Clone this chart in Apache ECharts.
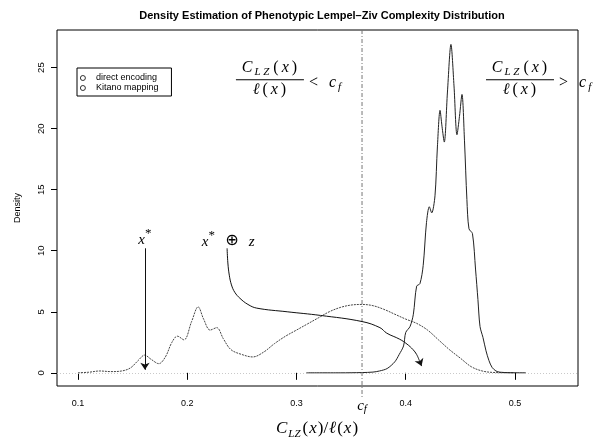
<!DOCTYPE html>
<html>
<head>
<meta charset="utf-8">
<script src="https://cdn.jsdelivr.net/npm/echarts@6/dist/echarts.min.js"></script>
<style>
  html, body { margin: 0; padding: 0; background: #fff; }
  #main { width: 598px; height: 437px; }
</style>
</head>
<body>
<div id="main"></div>
<script>
// density of the direct encoding phenotypes
var directX = [0.100, 0.110, 0.120, 0.130, 0.140, 0.148, 0.155, 0.161, 0.167, 0.174, 0.180, 0.186, 0.191, 0.197, 0.204, 0.210, 0.215, 0.221, 0.227, 0.233, 0.240, 0.250, 0.260, 0.270, 0.280, 0.290, 0.300, 0.310, 0.320, 0.330, 0.340, 0.350, 0.360, 0.370, 0.380, 0.390, 0.400, 0.410, 0.420, 0.430, 0.440, 0.450, 0.460, 0.470, 0.480, 0.490, 0.500]
var directY = [0.00, 0.05, 0.15, 0.10, 0.15, 0.40, 1.00, 1.45, 1.10, 0.75, 1.30, 2.50, 3.00, 2.70, 4.20, 5.40, 4.40, 3.50, 3.70, 2.80, 1.90, 1.50, 1.30, 1.70, 2.40, 3.00, 3.50, 4.00, 4.50, 5.00, 5.35, 5.55, 5.60, 5.50, 5.20, 4.80, 4.40, 4.05, 3.50, 2.70, 1.90, 1.20, 0.50, 0.15, 0.03, 0.01, 0.00]

// density of the Kitano mapping phenotypes
var kitanoX = [0.309, 0.340, 0.360, 0.370, 0.376, 0.383, 0.390, 0.394, 0.398, 0.400, 0.404, 0.407, 0.410, 0.413, 0.416, 0.419, 0.4216, 0.4238, 0.4268, 0.429, 0.4314, 0.4332, 0.4353, 0.4382, 0.4414, 0.4442, 0.4469, 0.4492, 0.4515, 0.4538, 0.456, 0.4579, 0.4611, 0.4639, 0.4661, 0.468, 0.4707, 0.4735, 0.4762, 0.479, 0.4826, 0.4863, 0.4954, 0.510]
var kitanoY = [0, 0, 0.02, 0.06, 0.15, 0.35, 0.9, 1.5, 2.2, 3.3, 3.8, 4.8, 7.1, 7.3, 8.8, 12.3, 13.6, 13.1, 14.5, 18.5, 21.5, 20.2, 18.9, 23.0, 26.9, 23.5, 19.5, 21.0, 22.8, 19.0, 14.2, 11.8, 11.4, 8.5, 6.0, 3.8, 2.9, 1.8, 1.0, 0.45, 0.15, 0.05, 0.01, 0]

// the x* ⊕ z arrow path
var mutX = [0.2365, 0.2372, 0.2385, 0.2405, 0.2435, 0.2483, 0.2556, 0.2636, 0.2915, 0.3220, 0.3600, 0.3764, 0.3826, 0.3945, 0.4012, 0.4067, 0.4100, 0.4125]
var mutY = [10.2, 9.0, 8.0, 7.2, 6.6, 6.1, 5.6, 5.3, 5.0, 4.7, 4.2, 3.7, 3.25, 2.75, 2.35, 1.9, 1.5, 1.0]
var mutTip = [0.4145, 0.55]

// x* arrow
var starX = 0.1613
var starTop = 10.2
var starTip = 0.25

var cutoff = 0.36
var xTicks = [0.1, 0.2, 0.3, 0.4, 0.5]
var xLabels = [0.1, 0.2, 0.3, cutoff, 0.4, 0.5]
var yTicks = [0, 5, 10, 15, 20, 25]

function pairs (xs, ys) {
  return xs.map(function (x, i) { return [x, ys[i]] })
}

var serif = 'Liberation Serif'
var sans = 'Liberation Sans'
var mathRich = {
  n: { fontFamily: serif, fontStyle: 'italic', fontSize: 16, color: '#000', verticalAlign: 'top', lineHeight: 18, padding: [0, 1, 0, 1] },
  r: { fontFamily: serif, fontSize: 16, color: '#000', verticalAlign: 'top', lineHeight: 18, padding: [0, 2, 0, 2] },
  s: { fontFamily: serif, fontStyle: 'italic', fontSize: 11, color: '#000', verticalAlign: 'bottom', lineHeight: 18, padding: [0, 2, 0, 1] },
  m: { fontFamily: serif, fontStyle: 'italic', fontSize: 15, color: '#000', verticalAlign: 'bottom', lineHeight: 20 },
  p: { fontFamily: serif, fontSize: 13, color: '#000', verticalAlign: 'top', lineHeight: 20 },
  o: { fontFamily: 'DejaVu Sans', fontSize: 16, color: '#000', verticalAlign: 'bottom', lineHeight: 20 },
  bar: { width: 68, height: 1, backgroundColor: '#000', lineHeight: 4 }
}

function note (coord, text, position) {
  return {
    coord: coord,
    symbol: 'circle',
    symbolSize: 0,
    label: {
      show: true,
      position: position || 'inside',
      distance: 0,
      formatter: text,
      rich: mathRich
    }
  }
}

var fraction = '{n|C}{s|L Z}{r|(}{n|x}{r|)}\n{bar|}\n{n|\u2113}{r|(}{n|x}{r|)}'

var chart = echarts.init(document.getElementById('main'))

var option = {
  animation: false,
  backgroundColor: '#fff',
  title: {
    text: 'Density Estimation of Phenotypic Lempel\u2013Ziv Complexity Distribution',
    left: 317,
    top: 5,
    textAlign: 'center',
    textStyle: { fontFamily: sans, fontSize: 11, fontWeight: 'bold', color: '#000' }
  },
  legend: {
    left: 77,
    top: 68,
    orient: 'vertical',
    data: ['direct encoding', 'Kitano mapping'],
    icon: 'circle',
    itemWidth: 10,
    itemHeight: 5,
    itemGap: 0,
    padding: [5, 13, 3, 3],
    borderColor: '#000',
    borderWidth: 1,
    itemStyle: { color: '#fff', borderColor: '#000', borderWidth: 0.8 },
    textStyle: { fontFamily: sans, fontSize: 9, color: '#000', lineHeight: 10, padding: [0, 0, 0, 3] },
    selectedMode: false
  },
  grid: {
    left: 57,
    right: 20,
    top: 30,
    bottom: 51,
    show: true,
    borderColor: '#000',
    borderWidth: 1,
    containLabel: false,
    outerBoundsMode: 'none'
  },
  xAxis: {
    type: 'value',
    min: 0.0808,
    max: 0.5577,
    name: '{n|C}{s|LZ}{r|(}{n|x}{r|)/}{n|\u2113}{r|(}{n|x}{r|)}',
    nameLocation: 'middle',
    nameGap: 27,
    nameTextStyle: {
      rich: {
        n: { fontFamily: serif, fontStyle: 'italic', fontSize: 17, color: '#000', verticalAlign: 'top', lineHeight: 20 },
        r: { fontFamily: serif, fontSize: 17, color: '#000', verticalAlign: 'top', lineHeight: 20, padding: [0, 1, 0, 1] },
        s: { fontFamily: serif, fontStyle: 'italic', fontSize: 11, color: '#000', verticalAlign: 'bottom', lineHeight: 20, padding: [0, 1, 0, 1] }
      }
    },
    axisLine: { show: false },
    axisTick: { show: true, length: 7, customValues: xTicks, lineStyle: { color: '#000' } },
    axisLabel: {
      customValues: xLabels,
      margin: 13,
      fontFamily: sans,
      fontSize: 9,
      color: '#000',
      formatter: function (v) {
        if (Math.abs(v - cutoff) < 1e-9) return '{c|c}{f|f}'
        return String(v)
      },
      rich: {
        c: { fontFamily: serif, fontStyle: 'italic', fontSize: 15, color: '#000', verticalAlign: 'top', lineHeight: 16 },
        f: { fontFamily: serif, fontStyle: 'italic', fontSize: 11, color: '#000', verticalAlign: 'bottom', lineHeight: 16, padding: [5, 0, 0, 0] }
      }
    },
    splitLine: { show: false }
  },
  yAxis: {
    type: 'value',
    min: -1.08,
    max: 28.08,
    name: 'Density',
    nameLocation: 'middle',
    nameGap: 35,
    nameRotate: 90,
    nameTextStyle: { fontFamily: sans, fontSize: 9, color: '#000' },
    axisLine: { show: false },
    axisTick: { show: true, length: 6, customValues: yTicks, lineStyle: { color: '#000' } },
    axisLabel: { customValues: yTicks, rotate: 90, margin: 11, fontFamily: sans, fontSize: 9.5, color: '#000' },
    splitLine: { show: false }
  },
  series: [
    {
      name: 'direct encoding',
      type: 'line',
      data: pairs(directX, directY),
      smooth: 0.35,
      showSymbol: false,
      silent: true,
      lineStyle: { color: '#444', width: 1, type: [2, 1] },
      markLine: {
        silent: true,
        symbol: 'none',
        label: { show: false },
        lineStyle: { color: '#bbb', width: 0.8, type: [1, 2] },
        data: [{ yAxis: 0 }]
      }
    },
    {
      name: 'Kitano mapping',
      type: 'line',
      data: pairs(kitanoX, kitanoY),
      smooth: 0.3,
      showSymbol: false,
      silent: true,
      lineStyle: { color: '#222', width: 1 }
    },
    {
      name: 'cutoff',
      type: 'line',
      data: [[cutoff, 28.08], [cutoff, -2]],
      clip: false,
      showSymbol: false,
      silent: true,
      lineStyle: { color: '#777', width: 1, type: [4, 2, 1, 2] },
      markPoint: {
        silent: true,
        data: [
          note([0.2757, 24.0], fraction),
          note([0.3096, 23.7], '{r|<  }{n|c}{s|f}', 'right'),
          note([0.5046, 24.0], fraction),
          note([0.5385, 23.7], '{r|>  }{n|c}{s|f}', 'right'),
          note([starX, 11.1], '{m|x}{p|*}'),
          note([0.2375, 10.95], '{m|x}{p|*}{o|  \u2295  }{m|z}')
        ]
      }
    },
    {
      name: 'mutation',
      type: 'line',
      data: pairs(mutX, mutY),
      smooth: 0.4,
      showSymbol: false,
      silent: true,
      lineStyle: { color: '#111', width: 1 },
      markLine: {
        silent: true,
        symbol: ['none', 'arrow'],
        symbolSize: 7,
        label: { show: false },
        lineStyle: { color: '#111', width: 1, type: 'solid' },
        data: [
          [{ coord: [mutX[mutX.length - 1], mutY[mutY.length - 1]] }, { coord: mutTip }],
          [{ coord: [starX, starTop] }, { coord: [starX, starTip] }]
        ]
      }
    }
  ]
}

chart.setOption(option)
</script>
</body>
</html>
